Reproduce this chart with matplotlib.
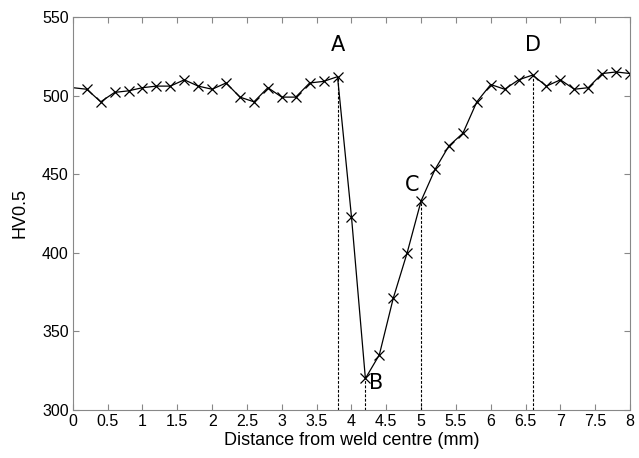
import numpy as np
import matplotlib
matplotlib.use('Agg')
import matplotlib.pyplot as plt

# hardness profile across the weld
dist = [0.0, 0.2, 0.4, 0.6, 0.8, 1.0, 1.2, 1.4, 1.6, 1.8, 2.0, 2.2, 2.4, 2.6, 2.8,
        3.0, 3.2, 3.4, 3.6, 3.8, 4.0, 4.2, 4.4, 4.6, 4.8, 5.0, 5.2, 5.4, 5.6, 5.8,
        6.0, 6.2, 6.4, 6.6, 6.8, 7.0, 7.2, 7.4, 7.6, 7.8, 8.0]
hv = [505, 504, 496, 502, 503, 505, 506, 506, 510, 506, 504, 508, 499, 496, 505,
      499, 499, 508, 509, 512, 423, 320, 335, 371, 400, 433, 453, 468, 476, 496,
      507, 504, 510, 513, 506, 510, 504, 505, 514, 515, 514]

# marked points
pt_names = ["A", "B", "C", "D"]
pt_x = [3.8, 4.2, 5.0, 6.6]
pt_y = [512, 320, 433, 513]

fig = plt.figure(figsize=(6.39, 4.58), dpi=100)
ax = fig.add_axes([0.114, 0.105, 0.872, 0.858])

ax.plot(dist[1:], hv[1:], "-", color="black", lw=0.9, marker="x", ms=7, mew=0.9)
ax.plot(dist[:2], hv[:2], "-", color="black", lw=0.9)

for x, y in zip(pt_x, pt_y):
    ax.plot([x, x], [300, y], "--", color="black", lw=0.8, dashes=(2.5, 1.5))

# label offsets (dx, dy, ha)
offs = {"A": (0, 20, "center"), "B": (0.05, -3, "left"), "C": (-0.03, 10, "right"), "D": (0, 19, "center")}
for n, x, y in zip(pt_names, pt_x, pt_y):
    dx, dy, ha = offs[n]
    ax.text(x + dx, y + dy, n, fontsize=15, ha=ha, va="center", family="DejaVu Sans")

ax.set_xlim(0, 8)
ax.set_ylim(300, 550)
ax.set_xticks(np.arange(0, 8.01, 0.5))
ax.set_xticklabels(["0", "0.5", "1", "1.5", "2", "2.5", "3", "3.5", "4", "4.5",
                    "5", "5.5", "6", "6.5", "7", "7.5", "8"])
ax.set_yticks([300, 350, 400, 450, 500, 550])

for s in ax.spines.values():
    s.set_color("#888888")
ax.tick_params(direction="in", top=True, right=True, length=4, color="#888888",
               labelsize=11.5, pad=3)
for lab in ax.get_xticklabels() + ax.get_yticklabels():
    lab.set_family("Liberation Sans")

ax.set_xlabel("Distance from weld centre (mm)", fontsize=13, family="Liberation Sans", labelpad=2)
ax.set_ylabel("HV0.5", fontsize=13, family="Liberation Sans", labelpad=10)

plt.savefig("out.png", dpi=100)
